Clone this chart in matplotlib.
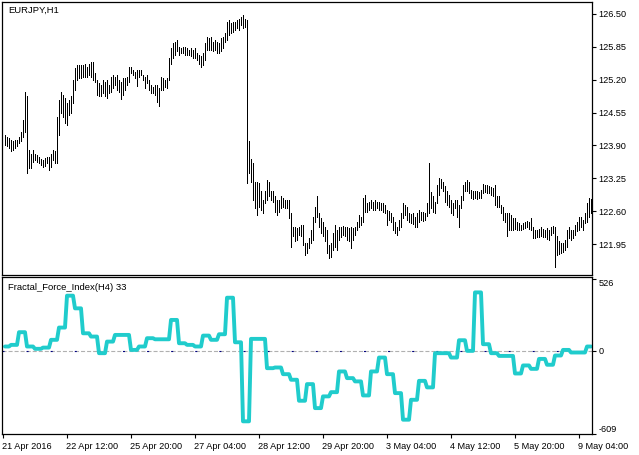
import numpy as np
import matplotlib
matplotlib.use("Agg")
import matplotlib.pyplot as plt

plt.rcParams['font.family'] = ['Liberation Sans', 'DejaVu Sans']
plt.rcParams['lines.scale_dashes'] = False

# EURJPY H1 bars (high / low), first bar 21 Apr 2016 05:00
high = [124.11, 124.07, 124.04, 124.01, 123.98, 124.01, 124.01, 124.07, 124.17, 124.40,
        124.96, 124.87, 123.81, 123.74, 123.81, 123.74, 123.71, 123.68, 123.63, 123.61,
        123.65, 123.68, 123.68, 123.74, 123.81, 123.78, 124.47, 124.80, 124.96, 124.90,
        124.83, 124.73, 124.80, 124.87, 125.20, 125.43, 125.49, 125.49, 125.49, 125.49,
        125.52, 125.46, 125.52, 125.56, 125.56, 125.33, 125.20, 125.13, 125.10, 125.20,
        125.16, 125.20, 125.10, 125.26, 125.29, 125.26, 125.29, 125.20, 125.16, 125.23,
        125.23, 125.26, 125.46, 125.46, 125.39, 125.36, 125.39, 125.39, 125.39, 125.29,
        125.26, 125.29, 125.20, 125.10, 125.06, 125.10, 125.10, 125.03, 125.26, 125.23,
        125.20, 125.23, 125.62, 125.82, 125.92, 125.95, 125.99, 125.85, 125.82, 125.85,
        125.85, 125.82, 125.79, 125.82, 125.79, 125.82, 125.72, 125.69, 125.66, 125.72,
        125.92, 126.05, 126.02, 126.05, 125.95, 125.99, 125.95, 125.92, 126.02, 126.05,
        126.12, 126.35, 126.38, 126.32, 126.35, 126.35, 126.38, 126.41, 126.45, 126.48,
        126.41, 126.38, 123.98, 123.63, 123.55, 123.18, 123.18, 123.15, 122.99, 122.82,
        122.99, 123.22, 123.18, 122.99, 122.99, 122.89, 122.82, 122.82, 122.89, 122.86,
        122.82, 122.82, 122.82, 122.56, 122.29, 122.29, 122.26, 122.29, 122.33, 122.33,
        121.97, 121.97, 122.06, 122.23, 122.49, 122.69, 122.89, 122.56, 122.46, 122.39,
        122.29, 122.23, 121.93, 121.97, 122.16, 122.33, 122.23, 122.29, 122.29, 122.31,
        122.28, 122.29, 122.26, 122.29, 122.26, 122.29, 122.39, 122.53, 122.49, 122.86,
        122.92, 122.76, 122.79, 122.82, 122.79, 122.82, 122.79, 122.79, 122.76, 122.76,
        122.72, 122.62, 122.61, 122.56, 122.49, 122.39, 122.29, 122.43, 122.56, 122.76,
        122.72, 122.69, 122.56, 122.54, 122.56, 122.49, 122.56, 122.62, 122.59, 122.59,
        122.56, 122.76, 123.55, 122.97, 122.89, 122.79, 123.12, 123.25, 123.23, 123.18,
        123.09, 122.99, 122.92, 122.82, 122.76, 122.82, 122.82, 122.72, 122.89, 123.12,
        123.18, 123.22, 123.18, 123.02, 122.99, 122.99, 122.99, 122.97, 123.02, 123.14,
        123.12, 123.12, 123.09, 123.07, 123.05, 123.12, 122.89, 122.89, 122.72, 122.69,
        122.56, 122.56, 122.56, 122.53, 122.46, 122.46, 122.39, 122.36, 122.33, 122.37,
        122.39, 122.41, 122.39, 122.46, 122.29, 122.23, 122.23, 122.24, 122.29, 122.24,
        122.23, 122.26, 122.22, 122.29, 122.31, 122.29, 122.10, 122.00, 121.97, 121.97,
        122.03, 122.23, 122.29, 122.23, 122.23, 122.33, 122.39, 122.49, 122.49, 122.43,
        122.56, 122.76, 122.86, 122.84]
low = [123.91, 123.89, 123.84, 123.78, 123.81, 123.84, 123.88, 123.94, 123.98, 124.07,
       124.17, 123.36, 123.45, 123.45, 123.58, 123.61, 123.58, 123.55, 123.51, 123.48,
       123.49, 123.55, 123.42, 123.48, 123.61, 123.55, 123.55, 124.11, 124.54, 124.47,
       124.34, 124.31, 124.50, 124.54, 124.73, 125.00, 125.20, 125.23, 125.23, 125.26,
       125.26, 125.26, 125.29, 125.26, 125.20, 125.16, 124.90, 124.87, 124.87, 124.93,
       124.87, 124.83, 124.93, 124.96, 125.03, 125.10, 125.00, 124.96, 124.81, 124.90,
       125.00, 125.10, 125.16, 125.33, 125.29, 125.23, 125.08, 125.26, 125.29, 125.20,
       125.03, 125.13, 125.00, 124.93, 124.93, 124.90, 124.75, 124.68, 125.00, 125.00,
       125.06, 125.03, 125.20, 125.52, 125.62, 125.69, 125.76, 125.69, 125.72, 125.72,
       125.69, 125.69, 125.69, 125.66, 125.62, 125.62, 125.59, 125.52, 125.46, 125.49,
       125.59, 125.79, 125.79, 125.79, 125.76, 125.79, 125.72, 125.72, 125.76, 125.82,
       125.95, 125.99, 126.08, 126.12, 126.15, 126.18, 126.22, 126.18, 126.28, 126.22,
       126.25, 123.16, 123.35, 123.18, 122.82, 122.66, 122.53, 122.69, 122.62, 122.56,
       122.76, 122.82, 122.89, 122.82, 122.79, 122.59, 122.53, 122.59, 122.66, 122.69,
       122.66, 122.66, 122.46, 121.90, 122.10, 122.00, 122.03, 122.13, 122.10, 121.93,
       121.73, 121.77, 121.87, 121.97, 122.03, 122.39, 122.49, 122.29, 122.16, 122.10,
       122.00, 121.77, 121.67, 121.70, 121.83, 121.90, 121.83, 122.03, 122.08, 122.13,
       122.10, 122.03, 122.00, 121.87, 122.03, 122.13, 122.23, 122.29, 122.33, 122.39,
       122.59, 122.59, 122.62, 122.66, 122.62, 122.62, 122.66, 122.62, 122.62, 122.59,
       122.56, 122.33, 122.43, 122.39, 122.23, 122.16, 122.13, 122.23, 122.29, 122.46,
       122.53, 122.43, 122.39, 122.36, 122.35, 122.28, 122.29, 122.39, 122.43, 122.41,
       122.43, 122.50, 122.56, 122.66, 122.59, 122.56, 122.76, 122.92, 123.05, 122.99,
       122.79, 122.72, 122.69, 122.56, 122.53, 122.66, 122.49, 122.29, 122.66, 122.82,
       122.99, 122.99, 122.95, 122.86, 122.84, 122.86, 122.84, 122.86, 122.86, 122.95,
       122.97, 122.95, 122.95, 122.92, 122.89, 122.72, 122.69, 122.69, 122.56, 122.43,
       122.39, 122.10, 122.23, 122.23, 122.23, 122.24, 122.23, 122.22, 122.23, 122.24,
       122.26, 122.29, 122.24, 122.23, 122.06, 122.06, 122.08, 122.08, 122.11, 122.08,
       122.08, 122.04, 122.03, 122.13, 122.16, 121.50, 121.73, 121.75, 121.77, 121.80,
       121.83, 121.89, 122.06, 122.03, 122.06, 122.13, 122.20, 122.23, 122.29, 122.23,
       122.36, 122.39, 122.49, 122.56]

# Fractal_Force_Index(H4) values, one per H4 bar (first and last H4 bars are partial)
ffi_h4 = [32, 44, 137, 32, 15, 24, 81, 171, 405, 312,
          129, 105, -17, 68, 117, 117, 7, 32, 93, 85,
          85, 227, 56, 44, 32, 112, 81, 122, 390, 63,
          -517, 88, 88, -127, -122, -171, -212, -366, -244, -420,
          -334, -303, -151, -200, -224, -327, -151, -49, -171, -310,
          -505, -359, -220, -268, -17, -17, -49, 78, 0, 429,
          49, -17, -37, -37, -166, -107, -132, -59, -102, -34,
          7, -12, -12, 32]
h1_per_h4 = [3] + [4] * 72 + [3]

price_ticks = [126.50, 125.85, 125.20, 124.55, 123.90, 123.25, 122.60, 121.95]
ffi_ticks = [526, 0, -609]
date_pos = [-1, 31, 63, 95, 127, 159, 191, 223, 255, 287]
date_labels = ['21 Apr 2016', '22 Apr 12:00', '25 Apr 20:00', '27 Apr 04:00', '28 Apr 12:00',
               '29 Apr 20:00', '3 May 04:00', '4 May 12:00', '5 May 20:00', '9 May 04:00']

ffi = np.repeat(ffi_h4, h1_per_h4)
x = np.arange(len(high))

fig = plt.figure(figsize=(6.39, 4.55), dpi=100)
ax1 = fig.add_axes([2/639, 1-275/455, 590/639, 273/455])
ax2 = fig.add_axes([2/639, 1-434/455, 590/639, 157/455])

# price panel: thin 1px bars, one every 2 px
ax1.vlines(x + 0.25, low, high, color='black', linewidth=0.72, antialiased=False)
ax1.set_xlim(-1.25, 293.75)
ax1.set_ylim(121.337, 126.737)
ax1.set_xticks([])
ax1.yaxis.tick_right()
ax1.set_yticks(price_ticks)
ax1.set_yticklabels(['%.2f' % p for p in price_ticks])
ax1.tick_params(axis='y', direction='out', length=3, width=0.8, pad=1.5, labelsize=6.6)
ax1.text(6/590, 1-8/273, 'EURJPY,H1', transform=ax1.transAxes, fontsize=6.8, va='center', ha='left')

# indicator panel
ax2.axhline(0, color='#b0b0b0', linewidth=0.8, dashes=(2.9, 1.45))
ax2.axhline(0, color='#000080', linewidth=0.8, dashes=(1.45, 15.9), dash_capstyle='butt')
ax2.plot(x + 0.25, ffi, color='#20cccc', linewidth=2.8, solid_joinstyle='round', solid_capstyle='round')
ax2.set_xlim(-1.25, 293.75)
ax2.set_ylim(-610, 542)
ax2.yaxis.tick_right()
ax2.set_yticks(ffi_ticks)
ax2.set_yticklabels([str(v) for v in ffi_ticks])
ax2.tick_params(axis='y', direction='out', length=3, width=0.8, pad=1.5, labelsize=6.6)
yl = ax2.get_yticklabels()
yl[0].set_va('top')
yl[2].set_va('bottom')
ax2.set_xticks(date_pos)
ax2.set_xticklabels(date_labels, ha='left')
ax2.tick_params(axis='x', direction='out', length=3, width=0.8, pad=2.5, labelsize=6.6)
ax2.text(6/590, 1-10/157, 'Fractal_Force_Index(H4) 33', transform=ax2.transAxes,
         fontsize=6.8, va='center', ha='left')

for ax in (ax1, ax2):
    for s in ax.spines.values():
        s.set_linewidth(0.9)
        s.set_color('black')

fig.savefig('out.png', dpi=100)
